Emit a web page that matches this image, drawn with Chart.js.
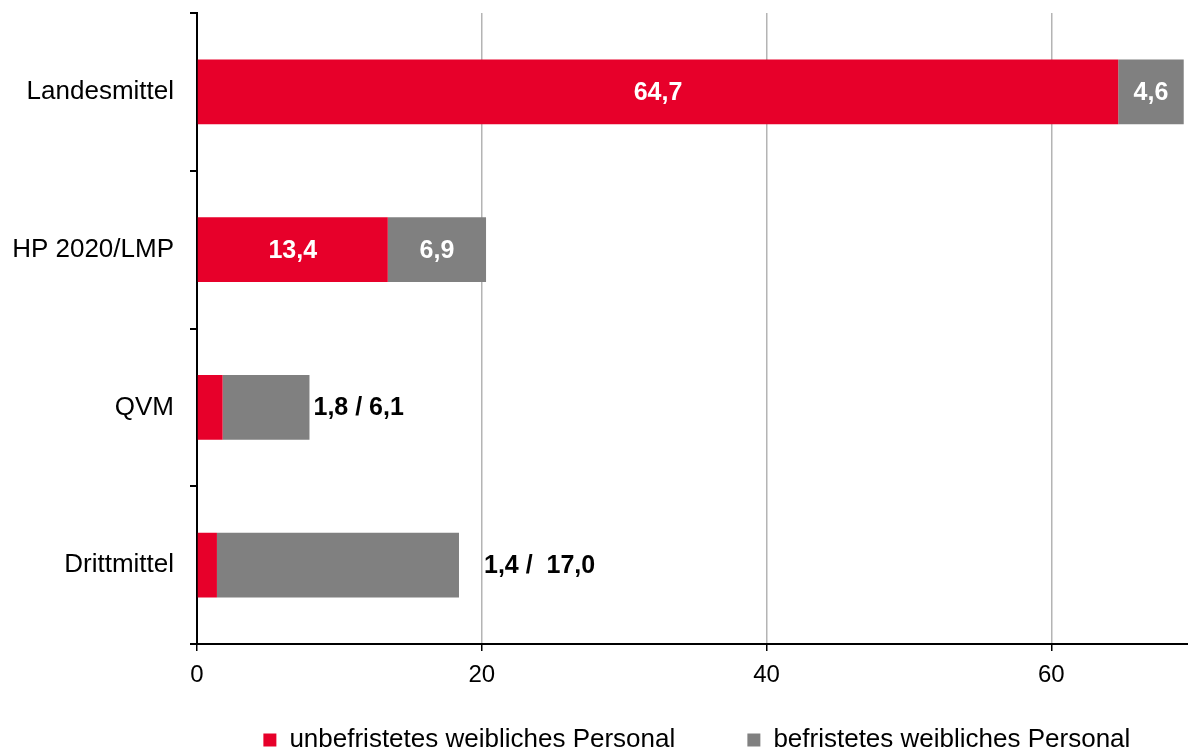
<!DOCTYPE html>
<html>
<head>
<meta charset="utf-8">
<script src="https://cdn.jsdelivr.net/npm/chart.js@4/dist/chart.umd.min.js"></script>
<style>
  html, body { margin: 0; padding: 0; background: #fff; }
  #wrap { width: 1188px; height: 749px; }
</style>
</head>
<body>
<div id="wrap"><canvas id="chart" width="1188" height="749"></canvas></div>
<script>
// categories and values
const categories = ['Landesmittel', 'HP 2020/LMP', 'QVM', 'Drittmittel'];
const unbefristet = [64.7, 13.4, 1.8, 1.4];
const befristet = [4.6, 6.9, 6.1, 17.0];
const seriesNames = ['unbefristetes weibliches Personal', 'befristetes weibliches Personal'];
// rows where the numbers sit inside the bars, and the combined text for the others
const insideRows = [true, true, false, false];
const outsideLabels = ['', '', '1,8 / 6,1', '1,4 /  17,0'];
const outsideGap = [0, 0, 4, 25];

const RED = '#e7002a';
const GREY = '#808080';
const FONT = "'Liberation Sans', Arial, sans-serif";

const fmt = (v) => v.toFixed(1).replace('.', ',');

// simple value labels, chartjs-datalabels is not available offline
const barLabels = {
  id: 'barLabels',
  afterDatasetsDraw(chart) {
    const ctx = chart.ctx;
    ctx.save();
    ctx.textBaseline = 'middle';
    ctx.font = 'bold 25px ' + FONT;
    chart.data.datasets.forEach((ds, di) => {
      const meta = chart.getDatasetMeta(di);
      meta.data.forEach((bar, i) => {
        if (!insideRows[i]) return;
        ctx.fillStyle = '#fff';
        ctx.textAlign = 'center';
        ctx.fillText(fmt(ds.data[i]), (bar.x + bar.base) / 2, bar.y + 1);
      });
    });
    const last = chart.getDatasetMeta(chart.data.datasets.length - 1);
    last.data.forEach((bar, i) => {
      if (!outsideLabels[i]) return;
      ctx.fillStyle = '#000';
      ctx.textAlign = 'left';
      ctx.fillText(outsideLabels[i], bar.x + outsideGap[i], bar.y + 1);
    });
    ctx.restore();
  }
};

new Chart(document.getElementById('chart').getContext('2d'), {
  type: 'bar',
  data: {
    labels: categories,
    datasets: [
      {
        label: seriesNames[0],
        data: unbefristet,
        backgroundColor: RED,
        borderWidth: 0,
      },
      {
        label: seriesNames[1],
        data: befristet,
        backgroundColor: GREY,
        borderWidth: 0,
      },
    ],
  },
  plugins: [barLabels],
  options: {
    indexAxis: 'y',
    responsive: false,
    animation: false,
    categoryPercentage: 1,
    barPercentage: 0.41,
    layout: {
      padding: { top: 13, right: 0, bottom: -14, left: 0 },
    },
    plugins: {
      legend: {
        position: 'bottom',
        align: 'end',
        labels: {
          boxWidth: 13,
          boxHeight: 13,
          padding: 36,
          color: '#000',
          font: { family: FONT, size: 26 },
          // legend padding also sets the vertical room, so widen the gaps with trailing spaces
          generateLabels: (chart) => {
            const items = Chart.defaults.plugins.legend.labels.generateLabels(chart);
            items[0].text += '     ';
            items[1].text += '   ';
            return items;
          },
        },
      },
      tooltip: { enabled: false },
    },
    scales: {
      x: {
        stacked: true,
        min: 0,
        max: 69.6,
        afterFit: (scale) => {
          scale.height = 47;
          scale.paddingLeft = 0;
          scale.paddingRight = 0;
        },
        border: { color: '#000', width: 2 },
        grid: {
          color: '#b4b4b4',
          lineWidth: 1.5,
          tickColor: '#000',
          tickLength: 7,
        },
        ticks: {
          stepSize: 20,
          includeBounds: false,
          padding: 10,
          color: '#000',
          font: { family: FONT, size: 24 },
        },
      },
      y: {
        stacked: true,
        afterFit: (scale) => {
          scale.width = 197;
          scale.paddingTop = 0;
          scale.paddingBottom = 0;
        },
        border: { color: '#000', width: 2 },
        grid: {
          drawOnChartArea: false,
          color: '#000',
          lineWidth: 2,
          tickLength: 7,
        },
        ticks: {
          padding: 16,
          color: '#000',
          font: { family: FONT, size: 26 },
        },
      },
    },
  },
});
</script>
</body>
</html>
